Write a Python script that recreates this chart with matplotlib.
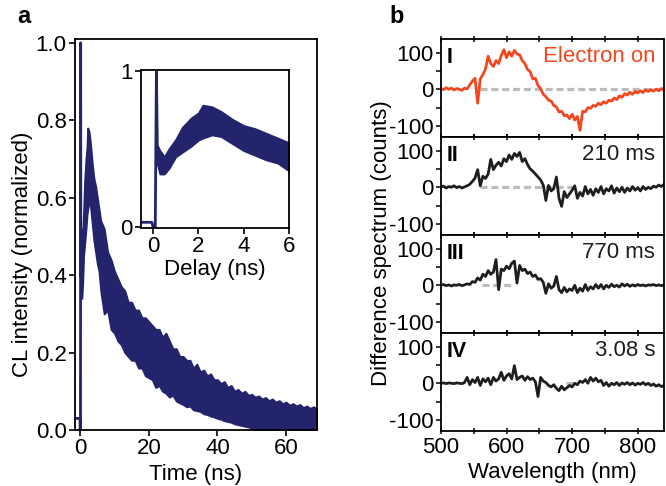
import numpy as np
import matplotlib
matplotlib.use("Agg")
import matplotlib.pyplot as plt
from matplotlib.ticker import MultipleLocator, FormatStrFormatter

plt.rcParams["font.family"] = ["Liberation Sans", "DejaVu Sans"]
plt.rcParams["font.size"] = 16
plt.rcParams["axes.unicode_minus"] = False

NAVY = "#23246b"
ORANGE = "#f2471f"
GREY = "#bcbcbc"

# ---- panel a: CL decay (envelope of the noisy trace) ----
pre_t = [-1.5, -0.05, 0.0, 0.1, 0.15, 0.2]
pre_i = [0.03, 0.03, 0.0, 0.0, 1.0, 0.40]

t_env = [0.2, 0.3, 0.5, 0.7, 1.0, 1.3, 1.7, 2.0, 2.2, 2.6, 3.0, 3.5, 4.0, 4.5, 5.0, 5.5, 6.0] \
    + list(range(7, 70))
i_upper = [0.52, 0.49, 0.45, 0.50, 0.56, 0.64, 0.70, 0.73, 0.78, 0.77, 0.74, 0.69, 0.65, 0.63,
           0.60, 0.57, 0.54,
           0.52, 0.46, 0.44, 0.41, 0.39, 0.37, 0.36, 0.33, 0.33, 0.31,
           0.31, 0.29, 0.29, 0.28, 0.27, 0.26, 0.26, 0.24, 0.25, 0.23,
           0.21, 0.21, 0.19, 0.19, 0.18, 0.18, 0.16, 0.17, 0.15, 0.155,
           0.14, 0.145, 0.13, 0.13, 0.12, 0.125, 0.11, 0.115, 0.10, 0.105,
           0.095, 0.10, 0.09, 0.092, 0.085, 0.088, 0.08, 0.084, 0.076, 0.08,
           0.072, 0.076, 0.068, 0.072, 0.064, 0.068, 0.062, 0.066, 0.058, 0.062,
           0.056, 0.06, 0.055]
i_lower = [0.40, 0.34, 0.34, 0.375, 0.45, 0.48, 0.52, 0.557, 0.57, 0.59, 0.58, 0.535, 0.49,
           0.46, 0.43, 0.41, 0.36,
           0.30, 0.31, 0.26, 0.25, 0.23, 0.22, 0.20, 0.19, 0.18, 0.18,
           0.16, 0.16, 0.14, 0.135, 0.13, 0.11, 0.115, 0.10, 0.095, 0.085,
           0.09, 0.075, 0.07, 0.066, 0.06, 0.062, 0.052, 0.05, 0.048, 0.042,
           0.04, 0.036, 0.034, 0.03, 0.028, 0.024, 0.022, 0.02, 0.016, 0.014,
           0.012, 0.01, 0.008, 0.005] + [0.0] * 19

# ---- panel b: difference spectra, 500-840 nm every 4 nm ----
wl = np.arange(500, 841, 4)
spec_1 = [2, -1, 4, 0, 3, -2, 2, 0, -3, 3,
          1, 12, 22, 30, -38, 28, 40, 55, 90, 70,
          62, 78, 70, 92, 108, 86, 102, 90, 106, 96,
          94, 78, 70, 54, 48, 28, 30, 10, 2, -14,
          -20, -30, -32, -44, -48, -62, -60, -72, -70, -80,
          -68, -84, -74, -112, -60, -62, -50, -52, -44, -46,
          -38, -42, -34, -38, -30, -32, -24, -28, -18, -22,
          -12, -16, -8, -14, -6, -10, -4, -9, -2, -6,
          -1, -5, 0, -4, 2, -3]
spec_2 = [1, 3, -2, 2, 0, 4, -1, 2, -2, 1,
          4, 8, 16, 25, 48, 4, 30, 24, 36, 76,
          48, 60, 68, 58, 78, 70, 88, 76, 92, 84,
          95, 70, 78, 62, 50, 44, 36, 28, 20, 6,
          -36, 5, -10, -4, 28, -30, -52, -12, -28, -18,
          -8, 4, -30, -14, -24, 2, -18, -6, -22, -4,
          -14, 2, -18, -4, -10, 4, -16, -2, -12, 0,
          -14, -2, -10, 2, -8, -1, -10, 2, -6, 0,
          -4, 3, 0, 6, 2, 8]
spec_3 = [0, 2, -1, 1, -2, 1, 0, 2, -1, 1,
          4, 2, 10, 8, 20, 14, 30, 24, 40, 30,
          36, 70, -12, 44, 40, 52, 45, 60, 66, 6,
          54, 40, 44, 32, 36, 24, 28, 16, 18, 8,
          -22, 4, -8, -2, 24, -12, -20, -6, -18, -10,
          -14, 0, -20, -8, -16, 2, -14, -4, -10, 2,
          -8, 2, -10, 0, -6, 3, -4, 0, -5, 4,
          -2, 3, -3, 1, -2, 2, -1, 1, -2, 1,
          0, 2, -1, 1, -1, 0]
spec_4 = [0, 1, -1, 1, 0, -1, 1, 0, -1, 2,
          16, -4, 10, 2, 16, -6, 12, 4, 14, -4,
          16, 6, 12, 30, 8, 20, 26, 12, 48, 10,
          16, 20, 8, 18, 10, 14, 4, -36, 16, 6,
          2, -6, -10, -4, -14, -20, -8, -18, -12, -6,
          -10, 0, -4, 6, 2, 10, 0, 16, 6, 14,
          4, 8, -6, 2, -8, 0, -4, 2, -6, 1,
          -3, 2, -4, 1, -5, 0, -3, 2, -4, 0,
          -6, -2, -8, -4, -9, -6]
spectra = [spec_1, spec_2, spec_3, spec_4]
roman = ["I", "II", "III", "IV"]
times = ["Electron on", "210 ms", "770 ms", "3.08 s"]
colors = [ORANGE, "#1e1e1e", "#1e1e1e", "#1e1e1e"]
zero_spans = [(560, 840), (560, 705), (562, 612), (690, 706)]


def style_spines(ax, lw=1.3):
    for s in ax.spines.values():
        s.set_linewidth(lw)


fig = plt.figure(figsize=(6.66, 4.86), dpi=100)

# panel a
ax = fig.add_axes([0.1126, 0.1152, 0.3634, 0.8046])
ax.plot(pre_t, pre_i, color=NAVY, lw=2.0)
ax.fill_between(t_env, i_lower, i_upper, color=NAVY, lw=1.4, edgecolor=NAVY)
ax.set_xlim(-1.5, 69)
ax.set_ylim(0, 1.01)
ax.set_xticks([0, 20, 40, 60])
ax.set_yticks([0.0, 0.2, 0.4, 0.6, 0.8, 1.0])
ax.yaxis.set_major_formatter(FormatStrFormatter("%.1f"))
ax.tick_params(direction="out", length=4, width=1.2, pad=2)
ax.set_xlabel("Time (ns)", labelpad=3)
ax.set_ylabel("CL intensity (normalized)")
ax.yaxis.set_label_coords(-0.175, 0.45)
style_spines(ax)

ins = fig.add_axes([0.2117, 0.531, 0.2222, 0.325])
ins.plot(pre_t, pre_i, color=NAVY, lw=2.0)
ins.fill_between(t_env[:17] + [7], i_lower[:17] + [0.30], i_upper[:17] + [0.52],
                 color=NAVY, lw=1.4, edgecolor=NAVY)
ins.set_xlim(-0.53, 6.0)
ins.set_ylim(-0.006, 1.006)
ins.set_xticks([0, 2, 4, 6])
ins.set_yticks([0, 1])
ins.tick_params(direction="out", length=4, width=1.2, pad=2)
ins.set_xlabel("Delay (ns)", labelpad=1)
style_spines(ins)

fig.text(0.026, 0.99, "a", fontsize=17, fontweight="bold", va="top")
fig.text(0.585, 0.99, "b", fontsize=17, fontweight="bold", va="top")

# panel b
bottom, top = 0.1132, 0.9198
h = (top - bottom) / 4
axes_b = []
for k in range(4):
    axb = fig.add_axes([0.662, top - (k + 1) * h, 0.335, h])
    x0, x1 = zero_spans[k]
    axb.plot([x0, x1], [0, 0], color=GREY, lw=2.3, dashes=(2.2, 1.2), zorder=1)
    axb.plot(wl, spectra[k], color=colors[k], lw=2.0, zorder=2)
    axb.set_xlim(500, 840)
    axb.set_ylim(-130, 137)
    axb.set_yticks([-100, 0, 100])
    axb.yaxis.set_minor_locator(MultipleLocator(50))
    axb.xaxis.set_major_locator(MultipleLocator(100))
    axb.xaxis.set_minor_locator(MultipleLocator(50))
    axb.tick_params(axis="y", which="both", direction="out", length=3.5, width=1.1, pad=1.5)
    axb.tick_params(axis="x", which="both", direction="inout", length=5, width=1.1,
                    top=True, pad=2)
    if k < 3:
        axb.tick_params(axis="x", labelbottom=False)
    axb.text(0.025, 0.92, roman[k], transform=axb.transAxes, fontsize=15.5,
             fontweight="bold", va="top", ha="left")
    axb.text(0.96, 0.93, times[k], transform=axb.transAxes, fontsize=16,
             color=colors[k], va="top", ha="right")
    style_spines(axb)
    axes_b.append(axb)

axes_b[-1].set_xlabel("Wavelength (nm)", labelpad=3)
fig.text(0.573, 0.5, "Difference spectrum (counts)", rotation=90,
         va="center", ha="center", fontsize=16)

fig.savefig("out.png", dpi=100)
